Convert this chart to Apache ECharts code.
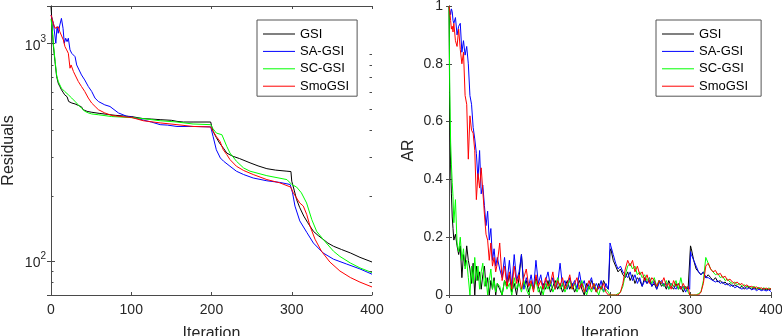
<!DOCTYPE html>
<html><head><meta charset="utf-8">
<script src="https://cdn.jsdelivr.net/npm/echarts@6/dist/echarts.min.js"></script>
<style>html,body{margin:0;padding:0;background:#fff}#c{width:782px;height:336px}</style>
</head><body><div id="c"></div>
<script>
// ---------- Left panel: Residuals (log) ----------
const SERIES_NAMES = ['GSI', 'SA-GSI', 'SC-GSI', 'SmoGSI'];
const SERIES_COLORS = ['#000000', '#0000ff', '#00ff00', '#ff0000'];
const X_TICKS = [0, 100, 200, 300, 400];
const RES_MINOR_TICKS = [80, 90, 200, 300, 400, 500, 600, 700, 800, 900];

const RES_GSI = [[0,1480],[1,1300],[2,1100],[3,970],[5,827],[7,706],[9,658],[11,635],[13,614],[15,598],[17,582],[20,570],[22,542],[26,533],[30,528],[34,520],[38,512],[40,497],[45,488],[50,484],[60,478],[70,473],[80,468],[90,465],[100,462],[115,452],[125,450],[136,447],[150,444],[157,439],[165,436],[177,436],[199,436],[200,420],[202,395],[206,370],[210,349],[215,330],[219,314],[223,308],[227,303],[235,296],[248,283],[258,274],[269,266],[280,262],[294,259],[299,258],[300,233],[303,212],[306,192],[310,176],[315,161],[320,150],[327,137],[333,131],[339,126],[345,121],[352,117],[362,113],[373,109],[385,104],[400,99]];
const RES_SA = [[0,1355],[3,1241],[4,1262],[6,1004],[7.5,1197],[9,1116],[11,1218],[13,1307],[15,1177],[16.6,1004],[18.3,1059],[20,1021],[21.6,1059],[23.7,936],[25.8,903],[30,871],[32,798],[34,785],[38,718],[42,681],[46.5,635],[50.7,603],[54.8,562],[59,542],[67,523],[73.5,514],[84,480],[94,464],[100,460],[115,445],[125,436],[136,424],[145,422],[157,416],[177,416],[199,414],[200,414],[202,374],[206,325],[211,298],[215,288],[223,273],[231,259],[240,250],[252,241],[269,234],[285,230],[298,225],[301,206],[304,179],[310,153],[319,135],[327,121],[339,109],[352,102],[368,97],[385,92],[400,87]];
const RES_SC = [[0,1300],[1.7,1156],[2.9,1004],[5,841],[7,718],[9,670],[13,624],[17,603],[21.6,582],[25.8,562],[30,542],[34,523],[38,505],[42.4,488],[46.5,480],[50.7,475],[59,471],[75.6,462],[96,458],[115,452],[136,442],[157,436],[177,427],[199,424],[200,424],[201,410],[206,388],[213,381],[219,337],[223,314],[231,288],[240,268],[248,259],[269,247],[294,237],[300,225],[306,219],[312,206],[318.5,185],[325,155],[331,137],[339,126],[352,111],[360,105],[373,98],[385,93],[400,88.5]];
const RES_SMO = [[0,1355],[2.9,1241],[5,1177],[7,1156],[9,1197],[11,1135],[13,1156],[15.4,1040],[17.4,969],[19.5,936],[21.6,903],[23.7,771],[25,798],[28,744],[30,718],[32,718],[34,670],[38,635],[42,603],[46.5,562],[50.7,533],[55,514],[59,497],[67,480],[76,467],[92,460],[100,458],[115,442],[136,432],[157,424],[177,416],[199,414],[200,414],[202,395],[206,374],[210.6,355],[214.7,325],[219,309],[223,293],[231,273],[240,261],[252,250],[269,237],[285,229],[298.6,219],[302,206],[306,195],[310,185],[314.4,179],[318.6,164],[322.7,145],[329,126],[337,111],[347.5,99],[360,90],[373,84],[385,80],[400,76]];

// ---------- Right panel: AR ----------
const AR_ITER = [0,1,2,3,4,5,
6,8,10,12,14,16,18,20,22,24,26,28,30,32,34,36,38,40,42,44,46,48,50,52,54,56,58,60,
63,66,69,72,75,78,81,84,87,90,93,96,99,102,105,108,111,114,117,120,123,126,129,132,135,138,141,144,147,150,153,156,159,162,165,168,171,174,177,180,183,186,189,192,195,198,
199,200,201,
204,207,210,213,216,219,222,225,228,231,234,237,240,243,246,249,252,255,258,261,264,267,270,273,276,279,282,285,288,291,294,297,
299,300,301,
304,307,310,313,316,319,322,325,328,331,334,337,340,343,346,349,352,355,358,361,364,367,370,373,376,379,382,385,388,391,394,397,400];

const AR_GSI = [1.0,0.6,0.45,0.35,0.27,0.23,
.19,.21,.17,.14,.17,.06,.14,.10,.17,.12,.09,.04,.11,.00,.10,.05,.08,.02,.07,.10,.03,.06,.00,.05,.02,.06,.00,.04,
.02,.00,.05,.03,.07,.01,.04,.00,.06,.14,.03,.05,.01,.04,.02,.06,.03,.00,.04,.02,.05,.01,.03,.05,.02,.04,.01,.03,.05,.02,.04,.01,.03,.05,.02,.00,.04,.02,.05,.03,.01,.04,.02,.05,.03,.02,
.02,.15,.16,
.12,.10,.08,.09,.07,.06,.08,.05,.07,.04,.06,.05,.03,.06,.04,.05,.03,.04,.02,.05,.03,.04,.02,.05,.03,.02,.04,.02,.03,.01,.03,.02,
.02,.17,.16,
.12,.09,.08,.07,.08,.06,.07,.06,.05,.06,.045,.05,.04,.045,.035,.04,.03,.035,.03,.025,.03,.02,.03,.025,.02,.025,.02,.025,.018,.022,.018,.02,.02];
const AR_SA = [1.0,1.0,0.97,0.99,0.98,0.95,
.94,.96,.90,.93,.94,.84,.88,.83,.86,.80,.69,.66,.58,.54,.49,.40,.50,.35,.38,.31,.24,.29,.19,.23,.12,.16,.10,.13,
.09,.06,.13,.04,.12,.03,.14,.05,.08,.14,.02,.06,.03,.07,.02,.12,.04,.07,.02,.05,.08,.03,.06,.02,.04,.11,.03,.05,.02,.06,.03,.05,.02,.08,.03,.05,.01,.04,.06,.02,.04,.02,.05,.01,.04,.02,
.02,.18,.17,
.14,.11,.09,.10,.08,.07,.06,.08,.05,.07,.04,.06,.03,.05,.04,.06,.03,.05,.02,.04,.05,.03,.04,.02,.04,.03,.02,.04,.02,.03,.01,.03,
.02,.15,.14,
.12,.10,.08,.07,.08,.06,.06,.055,.05,.045,.05,.04,.045,.035,.04,.03,.035,.025,.03,.025,.02,.028,.02,.025,.018,.022,.015,.02,.015,.018,.014,.018,.012];
const AR_SC = [1.0,0.7,0.53,0.45,0.39,0.34,
.25,.33,.18,.15,.20,.12,.16,.09,.12,.06,.00,.10,.04,.13,.05,.10,.02,.08,.11,.03,.06,.00,.05,.09,.02,.05,.01,.04,
.03,.00,.05,.02,.04,.00,.06,.02,.04,.01,.05,.02,.00,.04,.02,.05,.01,.03,.00,.04,.02,.05,.01,.03,.06,.02,.04,.01,.03,.05,.02,.04,.01,.03,.05,.02,.00,.03,.01,.04,.02,.00,.03,.01,.02,.01,
.01,.00,.00,
.00,.00,.005,.01,.03,.07,.10,.11,.09,.10,.07,.08,.06,.07,.05,.06,.04,.06,.03,.05,.04,.03,.05,.02,.04,.03,.05,.02,.06,.02,.03,.01,
.00,.00,.00,
.00,.00,.005,.01,.05,.13,.11,.09,.08,.07,.075,.06,.065,.05,.055,.045,.04,.045,.035,.04,.03,.035,.028,.03,.025,.03,.022,.026,.02,.025,.02,.024,.022];
const AR_SMO = [1.0,0.98,0.95,0.92,0.93,0.91,
.94,.88,.86,.92,.85,.80,.84,.69,.66,.47,.62,.57,.56,.50,.33,.42,.37,.44,.36,.28,.21,.19,.12,.18,.10,.13,.08,.11,
.18,.05,.10,.03,.08,.02,.10,.04,.07,.02,.06,.09,.03,.05,.01,.07,.03,.05,.02,.06,.03,.04,.08,.02,.05,.03,.06,.02,.04,.07,.02,.04,.06,.02,.04,.01,.03,.05,.02,.04,.01,.03,.02,.04,.01,.00,
.00,.00,.00,
.00,.00,.00,.01,.04,.09,.12,.10,.12,.08,.10,.07,.08,.05,.07,.04,.06,.05,.03,.05,.04,.06,.03,.04,.02,.05,.03,.04,.02,.04,.02,.03,
.00,.00,.00,
.00,.00,.00,.01,.04,.10,.11,.09,.08,.085,.07,.075,.06,.065,.05,.055,.045,.04,.045,.035,.04,.03,.035,.028,.03,.025,.028,.022,.025,.02,.024,.02,.022];

// ---------- build ----------
const FONT = 'Liberation Sans, Arial, Helvetica, sans-serif';
const AXC = '#4a4a4a';
const TXT = '#262626';
const zip = (xs, ys) => xs.map((x, i) => [x, ys[i]]);
const RES_DATA = [RES_GSI, RES_SA, RES_SC, RES_SMO];
const AR_DATA = [AR_GSI, AR_SA, AR_SC, AR_SMO].map(v => zip(AR_ITER, v));

const chart = echarts.init(document.getElementById('c'), null, {renderer: 'canvas'});

function xAx(grid, pos) {
  return {
    type: 'value', gridIndex: grid, position: pos, min: X_TICKS[0], max: X_TICKS[X_TICKS.length - 1], interval: 100,
    axisLine: {show: true, lineStyle: {color: AXC, width: 1}},
    axisTick: {show: true, inside: true, length: 3, lineStyle: {color: AXC}},
    axisLabel: {show: pos === 'bottom', color: TXT, fontSize: 14, fontFamily: FONT, margin: 8},
    splitLine: {show: false},
    name: pos === 'bottom' ? 'Iteration' : '', nameLocation: 'middle', nameGap: 31,
    nameTextStyle: {color: TXT, fontSize: 16, fontFamily: FONT}
  };
}
const LOG_MIN = 69.8, LOG_MAX = 1490;
function yLog(pos) {
  return {
    type: 'log', logBase: 10, gridIndex: 0, position: pos, min: LOG_MIN, max: LOG_MAX,
    axisLine: {show: true, lineStyle: {color: AXC, width: 1}},
    axisTick: {show: true, inside: true, length: 4, lineStyle: {color: AXC}},
    axisLabel: {
      show: pos === 'left', showMinLabel: false, showMaxLabel: false, margin: 5,
      formatter: v => '{b|10}{e|' + Math.round(Math.log10(v)) + '}',
      rich: {
        b: {fontSize: 14, fontFamily: FONT, color: TXT, padding: [5, 0, 0, 0]},
        e: {fontSize: 10, fontFamily: FONT, color: TXT, verticalAlign: 'top'}
      }
    },
    splitLine: {show: false},
    name: pos === 'left' ? 'Residuals' : '', nameLocation: 'middle', nameGap: 34,
    nameTextStyle: {color: TXT, fontSize: 16, fontFamily: FONT}
  };
}
function yLin(pos) {
  return {
    type: 'value', gridIndex: 1, position: pos, min: 0, max: 1, interval: 0.2,
    axisLine: {show: true, lineStyle: {color: AXC, width: 1}},
    axisTick: {show: true, inside: true, length: 3, lineStyle: {color: AXC}},
    axisLabel: {show: pos === 'left', color: TXT, fontSize: 14, fontFamily: FONT, margin: 6,
      formatter: v => String(Math.round(v * 10) / 10)},
    splitLine: {show: false},
    name: pos === 'left' ? 'AR' : '', nameLocation: 'middle', nameGap: 32,
    nameTextStyle: {color: TXT, fontSize: 16, fontFamily: FONT}
  };
}

const series = [];
SERIES_NAMES.forEach((n, i) => {
  series.push({name: n, type: 'line', xAxisIndex: 0, yAxisIndex: 0, data: RES_DATA[i],
    symbol: 'none', lineStyle: {color: SERIES_COLORS[i], width: 1}, itemStyle: {color: SERIES_COLORS[i]}, z: 3 + i});
});
SERIES_NAMES.forEach((n, i) => {
  series.push({name: n, type: 'line', xAxisIndex: 2, yAxisIndex: 2, data: AR_DATA[i],
    symbol: 'none', lineStyle: {color: SERIES_COLORS[i], width: 1}, itemStyle: {color: SERIES_COLORS[i]}, z: 3 + i});
});
series.push({
  name: 'minorTicks', type: 'custom', xAxisIndex: 0, yAxisIndex: 0, silent: true, z: 10,
  data: RES_MINOR_TICKS.map(v => [0, v]),
  renderItem: (params, api) => {
    const p = api.coord([0, api.value(1)]);
    const cs = params.coordSys;
    const y = Math.round(p[1]) + 0.5;
    return {type: 'group', children: [
      {type: 'line', shape: {x1: cs.x, y1: y, x2: cs.x + 2.5, y2: y}, style: {stroke: AXC, lineWidth: 1}},
      {type: 'line', shape: {x1: cs.x + cs.width, y1: y, x2: cs.x + cs.width - 2.5, y2: y}, style: {stroke: AXC, lineWidth: 1}}
    ]};
  }
});

function legend(left, padR) {
  return {
    data: SERIES_NAMES.map(n => ({name: n, icon: 'rect'})),
    orient: 'vertical', left: left, top: 20,
    itemWidth: 32, itemHeight: 1, itemGap: 3.4,
    padding: [7, padR, 3, 6],
    borderColor: '#555', borderWidth: 1, backgroundColor: '#fff', borderRadius: 0,
    textStyle: {color: '#000', fontSize: 13, lineHeight: 14, fontFamily: FONT},
    selectedMode: false
  };
}

chart.setOption({
  animation: false,
  backgroundColor: '#fff',
  grid: [
    {left: 51, top: 6, width: 321, height: 289, outerBoundsMode: 'none', containLabel: false},
    {left: 449, top: 6, width: 322, height: 289, outerBoundsMode: 'none', containLabel: false}
  ],
  xAxis: [xAx(0, 'bottom'), xAx(0, 'top'), xAx(1, 'bottom'), xAx(1, 'top')],
  yAxis: [yLog('left'), yLog('right'), yLin('left'), yLin('right')],
  legend: [legend(257, 8), legend(656, 13)],
  series: series
});
</script></body></html>
